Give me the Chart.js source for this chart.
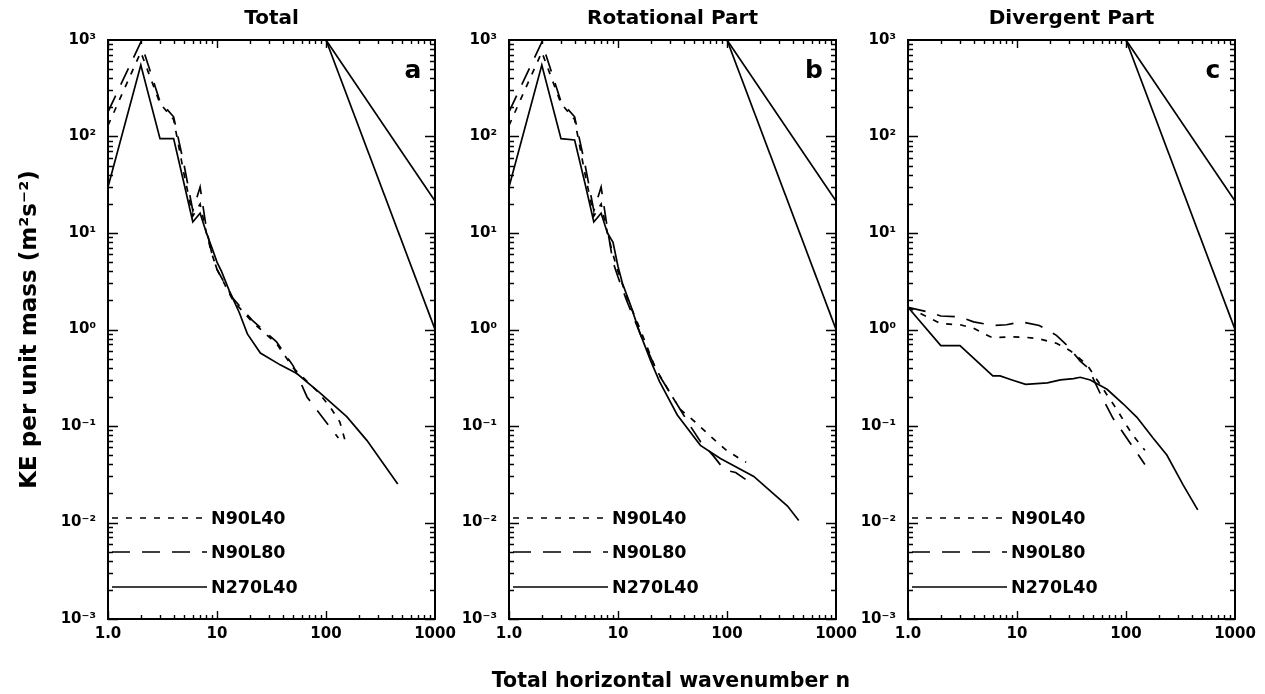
<!DOCTYPE html>
<html>
<head>
<meta charset="utf-8">
<script src="https://cdn.jsdelivr.net/npm/chart.js@4"></script>
<style>
  body { margin: 0; background: #fff; width: 1265px; height: 694px; position: relative; overflow: hidden; }
  canvas { position: absolute; top: 0; }
  #x-title {
    position: absolute; left: 471px; width: 400px; top: 668px;
    text-align: center; font: bold 20.5px 'DejaVu Sans', sans-serif; color: #000; white-space: nowrap;
  }
</style>
</head>
<body>
<canvas id="panel-a" width="465" height="694" style="left:0px"></canvas>
<canvas id="panel-b" width="465" height="694" style="left:401px"></canvas>
<canvas id="panel-c" width="465" height="694" style="left:800px"></canvas>
<div id="x-title">Total horizontal wavenumber n</div>
<script>
// KE spectra, three panels (total / rotational / divergent)

const panelTitles = ["Total", "Rotational Part", "Divergent Part"];
const panelLetters = ["a", "b", "c"];
const seriesNames = ["N90L40", "N90L80", "N270L40"];

const xTickValues = [1, 10, 100, 1000];
const xTickLabels = ["1.0", "10", "100", "1000"];
const yTickValues = [0.001, 0.01, 0.1, 1, 10, 100, 1000];
const yTickLabels = ["10⁻³", "10⁻²", "10⁻¹", "10⁰", "10¹", "10²", "10³"];

// reference slopes n^-3 and n^-5/3
const refN = [100, 1000];
const refMinus3 = [1000, 1];
const refMinus53 = [1000, 21.5];

// Total
const totN90L40n = [1, 2, 3, 4, 5, 6, 7, 8, 9, 10, 14, 21, 35, 50, 83, 108, 134, 150];
const totN90L40v = [130, 750, 220, 150, 40, 15, 20, 10, 6, 4.2, 2.0, 1.2, 0.72, 0.4, 0.23, 0.16, 0.11, 0.07];
const totN90L80n = [1, 2, 3, 4, 5, 6, 7, 8, 9, 10, 14, 21, 35, 50, 67, 100, 130];
const totN90L80v = [180, 950, 230, 160, 50, 17, 30, 11, 6, 4.2, 2.1, 1.25, 0.75, 0.42, 0.2, 0.11, 0.075];
const totN270L40n = [1, 2, 3, 4, 5, 6, 7, 8, 9, 10, 11, 13, 16, 19, 25, 38, 54, 88, 155, 237, 455];
const totN270L40v = [30, 550, 95, 95, 32, 13, 16, 10, 7, 5, 4, 2.5, 1.5, 0.9, 0.57, 0.43, 0.35, 0.22, 0.125, 0.071, 0.025];

// Rotational
const rotN90L40n = [1, 2, 3, 4, 5, 6, 7, 8, 9, 10, 12, 16, 22, 30, 37, 51, 70, 97, 138, 150];
const rotN90L40v = [130, 750, 220, 150, 40, 15, 20, 10, 6, 4, 2.2, 1.0, 0.4, 0.22, 0.15, 0.11, 0.079, 0.057, 0.044, 0.042];
const rotN90L80n = [1, 2, 3, 4, 5, 6, 7, 8, 9, 10, 12, 16, 23, 37, 46, 57, 75, 93, 107, 120, 148];
const rotN90L80v = [180, 950, 230, 160, 50, 17, 30, 11, 5, 3.5, 2, 0.9, 0.36, 0.15, 0.1, 0.069, 0.049, 0.036, 0.034, 0.033, 0.028];
const rotN270L40n = [1, 2, 3, 4, 5, 6, 7, 8, 9, 10, 11, 13, 16, 20, 24, 35, 57, 87, 176, 359, 455];
const rotN270L40v = [30, 550, 95, 92, 32, 13, 16, 10, 8, 4.5, 3, 1.8, 0.9, 0.47, 0.29, 0.13, 0.063, 0.046, 0.030, 0.0148, 0.0105];

// Divergent
const divN90L40n = [1, 2, 3, 4, 5, 6, 9, 12, 16, 23, 31, 44, 67, 82, 102, 116, 149];
const divN90L40v = [1.7, 1.15, 1.12, 1.03, 0.9, 0.82, 0.84, 0.83, 0.8, 0.72, 0.6, 0.43, 0.21, 0.15, 0.1, 0.08, 0.056];
const divN90L80n = [1, 1.6, 2, 3, 4, 6, 8, 11, 16, 23, 29, 38, 45, 60, 76, 88, 113, 149];
const divN90L80v = [1.7, 1.5, 1.38, 1.35, 1.2, 1.1, 1.12, 1.2, 1.1, 0.87, 0.68, 0.47, 0.4, 0.2, 0.12, 0.095, 0.063, 0.04];
const divN270L40n = [1, 2, 3, 6, 7, 9, 12, 19, 25, 33, 38, 47, 67, 94, 126, 177, 237, 334, 455];
const divN270L40v = [1.7, 0.68, 0.68, 0.33, 0.33, 0.3, 0.27, 0.28, 0.3, 0.31, 0.32, 0.3, 0.24, 0.17, 0.123, 0.075, 0.05, 0.0245, 0.0135];

const panelN = [
    [totN90L40n, totN90L80n, totN270L40n],
    [rotN90L40n, rotN90L80n, rotN270L40n],
    [divN90L40n, divN90L80n, divN270L40n],
];
const panelV = [
    [totN90L40v, totN90L80v, totN270L40v],
    [rotN90L40v, rotN90L80v, rotN270L40v],
    [divN90L40v, divN90L80v, divN270L40v],
];

const dashes = [[6, 8], [18, 12], []];
const FONT = "'DejaVu Sans', sans-serif";

function toPoints(ns, vs) {
    return ns.map((n, i) => ({ x: n, y: vs[i] }));
}

// box, inward ticks, legend, panel letter
const frame = {
    id: "frame",
    afterDraw(chart, args, opts) {
        const { ctx, chartArea: a, scales: { x, y } } = chart;
        ctx.save();
        ctx.strokeStyle = "#000";
        ctx.lineWidth = 2;
        ctx.strokeRect(a.left, a.top, a.right - a.left, a.bottom - a.top);

        ctx.lineWidth = 1.4;
        ctx.beginPath();
        for (let e = -3; e < 3; e++) {
            for (let m = 1; m < 10; m++) {
                const py = Math.round(y.getPixelForValue(m * Math.pow(10, e))) + 0.5;
                const len = m === 1 ? 10 : 5;
                ctx.moveTo(a.left, py); ctx.lineTo(a.left + len, py);
                ctx.moveTo(a.right, py); ctx.lineTo(a.right - len, py);
            }
        }
        for (let e = 0; e < 3; e++) {
            for (let m = 1; m < 10; m++) {
                const px = Math.round(x.getPixelForValue(m * Math.pow(10, e))) + 0.5;
                const len = m === 1 ? 8 : 4;
                ctx.moveTo(px, a.bottom); ctx.lineTo(px, a.bottom - len);
                ctx.moveTo(px, a.top); ctx.lineTo(px, a.top + len);
            }
        }
        ctx.stroke();

        // legend
        const rows = [478, 512, 547];
        ctx.lineWidth = 1.6;
        ctx.fillStyle = "#000";
        ctx.font = "bold 17.5px " + FONT;
        ctx.textBaseline = "middle";
        ctx.textAlign = "left";
        for (let i = 0; i < 3; i++) {
            const ds = chart.data.datasets[i];
            const py = a.top + rows[i];
            ctx.setLineDash(ds.borderDash || []);
            ctx.beginPath();
            ctx.moveTo(a.left + 4, py);
            ctx.lineTo(a.left + 99, py);
            ctx.stroke();
            ctx.setLineDash([]);
            ctx.fillText(ds.label, a.left + 103, py + 1);
        }

        ctx.font = "bold 25px " + FONT;
        ctx.textAlign = "center";
        ctx.textBaseline = "alphabetic";
        ctx.fillText(opts.letter, a.right - 22, a.top + 38);
        ctx.restore();
    },
};

function makePanel(canvasId, idx) {
    const datasets = seriesNames.map((name, s) => ({
        label: name,
        data: toPoints(panelN[idx][s], panelV[idx][s]),
        borderDash: dashes[s],
    }));
    datasets.push({ label: "", data: toPoints(refN, refMinus53), borderDash: [] });
    datasets.push({ label: "", data: toPoints(refN, refMinus3), borderDash: [] });
    datasets.forEach((ds) => {
        ds.borderColor = "#000";
        ds.borderWidth = 1.7;
        ds.pointRadius = 0;
        ds.fill = false;
        ds.tension = 0;
    });

    return new Chart(document.getElementById(canvasId), {
        type: "line",
        data: { datasets: datasets },
        options: {
            responsive: false,
            animation: false,
            devicePixelRatio: 1,
            layout: { padding: { left: 0, right: 30, top: 0, bottom: 0 } },
            plugins: {
                legend: { display: false },
                tooltip: { enabled: false },
                title: {
                    display: true,
                    text: panelTitles[idx],
                    fullSize: false,
                    color: "#000",
                    font: { family: FONT, size: 20, weight: "bold" },
                    padding: { top: 7, bottom: 9 },
                },
                frame: { letter: panelLetters[idx] },
            },
            scales: {
                x: {
                    type: "logarithmic",
                    min: 1,
                    max: 1000,
                    grid: { display: false, drawTicks: false },
                    border: { display: false },
                    afterBuildTicks: (s) => { s.ticks = xTickValues.map((v) => ({ value: v })); },
                    afterFit: (s) => { s.height = 75; },
                    ticks: {
                        callback: (v, i) => xTickLabels[i],
                        autoSkip: false,
                        maxRotation: 0,
                        padding: 6,
                        color: "#000",
                        font: { family: FONT, size: 15, weight: "bold" },
                    },
                },
                y: {
                    type: "logarithmic",
                    min: 0.001,
                    max: 1000,
                    grid: { display: false, drawTicks: false },
                    border: { display: false },
                    afterBuildTicks: (s) => { s.ticks = yTickValues.map((v) => ({ value: v })); },
                    afterFit: (s) => { s.width = 108; },
                    ticks: {
                        callback: (v, i) => yTickLabels[i],
                        autoSkip: false,
                        padding: 12,
                        color: "#000",
                        font: { family: FONT, size: 15, weight: "bold" },
                    },
                    title: {
                        display: idx === 0,
                        text: "KE per unit mass (m²s⁻²)",
                        color: "#000",
                        font: { family: FONT, size: 23, weight: "bold" },
                        padding: { top: 16, bottom: 0 },
                    },
                },
            },
        },
        plugins: [frame],
    });
}

makePanel("panel-a", 0);
makePanel("panel-b", 1);
makePanel("panel-c", 2);
</script>
</body>
</html>
